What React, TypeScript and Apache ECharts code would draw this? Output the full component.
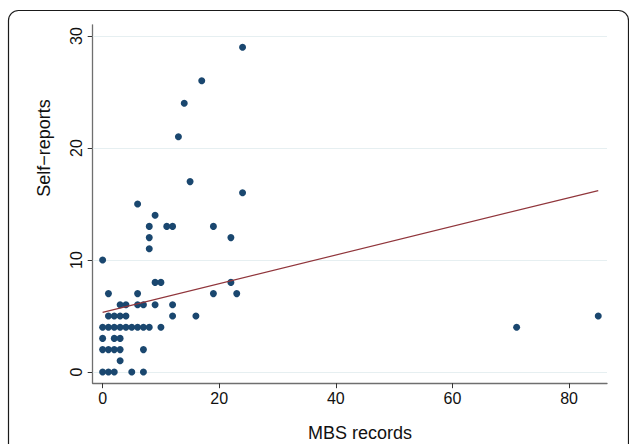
import React, { useEffect, useRef } from "react";
import * as echarts from "echarts";

const mbsRecords = [
  0, 0, 0, 0, 0,
  1, 1, 1, 1, 1,
  2, 2, 2, 2, 2,
  3, 3, 3, 3, 3, 3,
  4, 4, 4,
  5, 5,
  6, 6, 6, 6,
  7, 7, 7, 7,
  8, 8, 8, 8,
  9, 9, 9,
  10, 10,
  11,
  12, 12, 12,
  13, 14, 15, 16, 17,
  19, 19,
  22, 22,
  23,
  24, 24,
  71, 85,
];
const selfReports = [
  10, 4, 3, 2, 0,
  7, 5, 4, 2, 0,
  5, 4, 3, 2, 0,
  6, 5, 4, 3, 2, 1,
  6, 5, 4,
  4, 0,
  15, 7, 6, 4,
  6, 4, 2, 0,
  13, 12, 11, 4,
  14, 8, 6,
  8, 4,
  13,
  13, 6, 5,
  21, 24, 17, 5, 26,
  13, 7,
  12, 8,
  7,
  29, 16,
  4, 5,
];
const fitX = [0, 85];
const fitY = [5.33, 16.2];
const xTicks = [0, 20, 40, 60, 80];
const yTicks = [0, 10, 20, 30];
const xTitle = "MBS records";
const yTitle = "Self\u2212reports";

export default function App() {
  const ref = useRef<HTMLDivElement>(null);
  useEffect(() => {
    if (!ref.current) return;
    const chart = echarts.init(ref.current, null, { renderer: "svg" });
    const font = "Liberation Sans, Arial, Helvetica, sans-serif";
    const scatterData = mbsRecords.map((x, i) => [x, selfReports[i]]);
    const fitData = fitX.map((x, i) => [x, fitY[i]]);
    chart.setOption({
      animation: false,
      backgroundColor: "#ffffff",
      textStyle: { fontFamily: font },
      graphic: [
        {
          type: "rect",
          shape: { x: 8.5, y: 10.5, width: 620, height: 500, r: 10 },
          style: { fill: "none", stroke: "#1a1a1a", lineWidth: 1.2 },
          silent: true,
          z: -10,
        },
        {
          type: "text",
          x: 360,
          y: 433,
          silent: true,
          style: {
            text: xTitle,
            fontSize: 18,
            fontFamily: font,
            fill: "#111",
            textAlign: "center",
            textVerticalAlign: "middle",
          },
        },
        {
          type: "text",
          x: 44,
          y: 148,
          rotation: Math.PI / 2,
          silent: true,
          style: {
            text: yTitle,
            fontSize: 18,
            fontFamily: font,
            fill: "#111",
            textAlign: "center",
            textVerticalAlign: "middle",
          },
        },
      ],
      grid: { left: 92.7, right: 629 - 607, top: 372 - 31 * 11.2, bottom: 444 - 383.2, containLabel: false },
      xAxis: {
        type: "value",
        min: -1.7,
        max: 86.5,
        axisLine: { show: true, onZero: false, lineStyle: { color: "#6f6f6f", width: 1.3 } },
        axisTick: { show: true, length: 5, customValues: xTicks, lineStyle: { color: "#333" } },
        axisLabel: { customValues: xTicks, fontSize: 16, color: "#111", margin: 7, fontFamily: font },
        splitLine: { show: false },
      },
      yAxis: {
        type: "value",
        min: -1,
        max: 31,
        axisLine: { show: true, onZero: false, lineStyle: { color: "#6f6f6f", width: 1.3 } },
        axisTick: { show: true, length: 5, customValues: yTicks, lineStyle: { color: "#333" } },
        axisLabel: { customValues: yTicks, fontSize: 16, color: "#111", margin: 8, rotate: 90, fontFamily: font },
        splitLine: { show: false },
      },
      series: [
        {
          type: "scatter",
          data: scatterData,
          symbol: "circle",
          symbolSize: 7,
          itemStyle: { color: "#1a476f", opacity: 1 },
          z: 3,
          markLine: {
            silent: true,
            symbol: "none",
            label: { show: false },
            lineStyle: { color: "#e6eff1", width: 1, type: "solid" },
            data: yTicks.map((v) => ({ yAxis: v })),
            z: 1,
          },
        },
        {
          type: "line",
          data: fitData,
          symbol: "none",
          silent: true,
          lineStyle: { color: "#90353b", width: 1.2 },
          z: 4,
        },
      ],
    });
    return () => chart.dispose();
  }, []);
  return (
    <div
      ref={ref}
      style={{ position: "fixed", left: 0, top: 0, width: 629, height: 444, background: "#fff" }}
    />
  );
}
